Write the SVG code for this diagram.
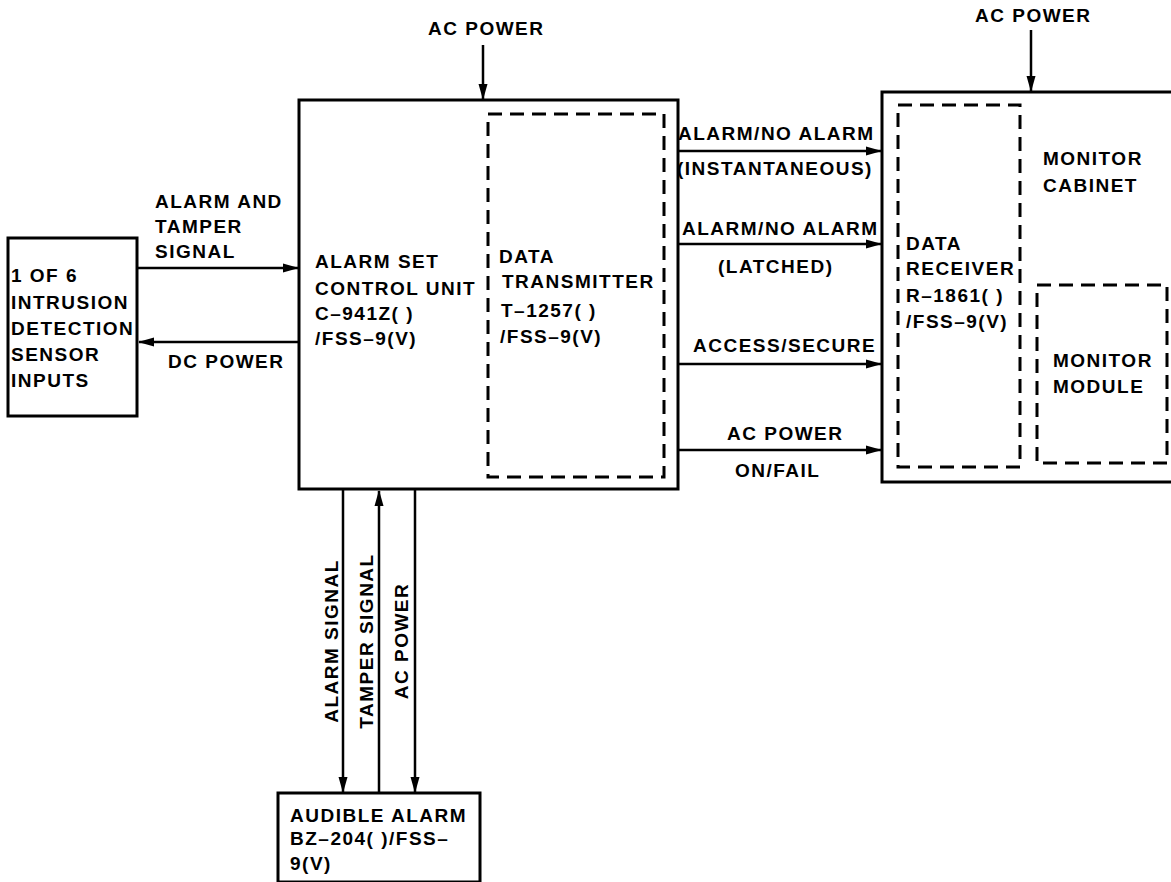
<svg xmlns="http://www.w3.org/2000/svg" width="1171" height="882" viewBox="0 0 1171 882">
<style>
text{font-family:"Liberation Sans",Arial,sans-serif;font-weight:bold;font-size:19px;letter-spacing:1.5px;fill:#000}
.box{fill:none;stroke:#000;stroke-width:3}
.dash{fill:none;stroke:#000;stroke-width:3;stroke-dasharray:14 8}
.conn{stroke:#000;stroke-width:2.5;fill:none;marker-end:url(#ah)}
.mid{text-anchor:middle}
</style>
<defs>
<marker id="ah" markerUnits="userSpaceOnUse" markerWidth="16" markerHeight="10" refX="15" refY="5" orient="auto">
<path d="M0,0.5 L16,5 L0,9.5 z" fill="#000"/>
</marker>
</defs>
<rect width="1171" height="882" fill="#fff"/>

<g id="sensor">
<rect class="box" x="8" y="238" width="129" height="178"/>
<text x="11" y="282">1 OF 6</text>
<text x="11" y="309">INTRUSION</text>
<text x="11" y="335">DETECTION</text>
<text x="11" y="361">SENSOR</text>
<text x="11" y="387">INPUTS</text>
</g>

<g id="control-unit">
<rect class="box" x="299" y="100" width="379" height="389"/>
<text x="315" y="268">ALARM SET</text>
<text x="315" y="295">CONTROL UNIT</text>
<text x="315" y="320">C–941Z( )</text>
<text x="315" y="345">/FSS–9(V)</text>
</g>

<g id="data-transmitter">
<rect class="dash" x="488" y="114" width="176" height="363"/>
<text x="499" y="263">DATA</text>
<text x="502" y="288">TRANSMITTER</text>
<text x="501" y="317">T–1257( )</text>
<text x="500" y="343">/FSS–9(V)</text>
</g>

<g id="monitor-cabinet">
<rect class="box" x="882" y="92" width="300" height="390"/>
<text x="1043" y="165">MONITOR</text>
<text x="1043" y="192">CABINET</text>
</g>

<g id="data-receiver">
<rect class="dash" x="898" y="105" width="122" height="362"/>
<text x="906" y="250">DATA</text>
<text x="906" y="275">RECEIVER</text>
<text x="906" y="302">R–1861( )</text>
<text x="906" y="328">/FSS–9(V)</text>
</g>

<g id="monitor-module">
<rect class="dash" x="1037" y="285" width="130" height="178"/>
<text x="1053" y="367">MONITOR</text>
<text x="1053" y="393">MODULE</text>
</g>

<g id="audible-alarm">
<rect class="box" x="278" y="793" width="202" height="89"/>
<text x="290" y="822">AUDIBLE ALARM</text>
<text x="290" y="845">BZ–204( )/FSS–</text>
<text x="290" y="870">9(V)</text>
</g>

<g id="connectors">
<line class="conn" x1="138" y1="268" x2="298" y2="268"/>
<line class="conn" x1="298" y1="342" x2="139" y2="342"/>
<line class="conn" x1="483" y1="45" x2="483" y2="99"/>
<line class="conn" x1="1031" y1="30" x2="1031" y2="91"/>
<line class="conn" x1="678" y1="151" x2="881" y2="151"/>
<line class="conn" x1="678" y1="244" x2="881" y2="244"/>
<line class="conn" x1="678" y1="364" x2="881" y2="364"/>
<line class="conn" x1="678" y1="450" x2="881" y2="450"/>
<line class="conn" x1="343" y1="490" x2="343" y2="792"/>
<line class="conn" x1="379" y1="792" x2="379" y2="491"/>
<line class="conn" x1="415" y1="490" x2="415" y2="792"/>
</g>

<g id="connector-labels">
<text x="155" y="208">ALARM AND</text>
<text x="155" y="233">TAMPER</text>
<text x="155" y="258">SIGNAL</text>
<text x="168" y="368">DC POWER</text>
<text x="428" y="35">AC POWER</text>
<text x="975" y="22">AC POWER</text>
<text x="678" y="140">ALARM/NO ALARM</text>
<text x="677" y="175">(INSTANTANEOUS)</text>
<text x="682" y="235">ALARM/NO ALARM</text>
<text x="718" y="273">(LATCHED)</text>
<text x="693" y="352">ACCESS/SECURE</text>
<text x="727" y="440">AC POWER</text>
<text x="735" y="477">ON/FAIL</text>
<text class="mid" transform="translate(338,641) rotate(-90)">ALARM SIGNAL</text>
<text class="mid" transform="translate(373,641) rotate(-90)">TAMPER SIGNAL</text>
<text class="mid" transform="translate(408,641) rotate(-90)">AC POWER</text>
</g>
</svg>
